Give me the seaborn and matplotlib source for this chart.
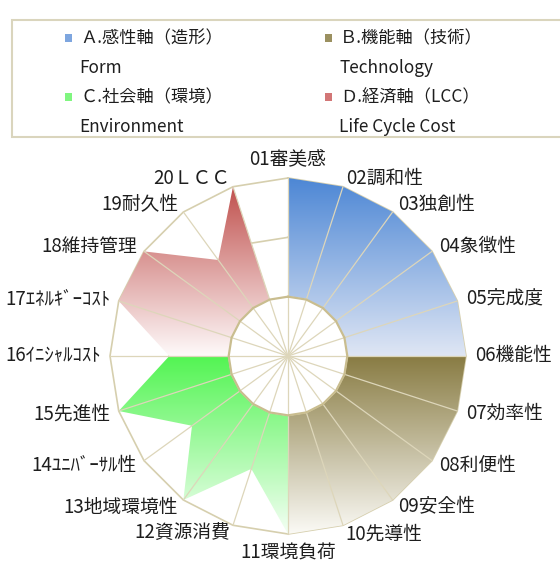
import numpy as np
import matplotlib
matplotlib.use('Agg')
import matplotlib.pyplot as plt
import seaborn as sns
from matplotlib.patches import Polygon, Rectangle
from matplotlib.colors import LinearSegmentedColormap

# axis labels, clockwise from the top
labels = ['01審美感', '02調和性', '03独創性', '04象徴性', '05完成度',
          '06機能性', '07効率性', '08利便性', '09安全性', '10先導性',
          '11環境負荷', '12資源消費', '13地域環境性', '14ﾕﾆﾊﾞｰｻﾙ性', '15先進性',
          '16ｲﾆｼｬﾙｺｽﾄ', '17ｴﾈﾙｷﾞｰｺｽﾄ', '18維持管理', '19耐久性', '20ＬＣＣ']

# each series: which axes (0-based, 20 wraps to 0) and its values (scale 0..3)
form_axes = [0, 1, 2, 3, 4, 5]
form_vals = [3, 3, 3, 3, 3, 3]
tech_axes = [5, 6, 7, 8, 9, 10]
tech_vals = [3, 3, 3, 3, 3, 3]
env_axes = [10, 11, 12, 13, 14, 15]
env_vals = [3, 2, 3, 2, 3, 2]
lcc_axes = [15, 16, 17, 18, 19, 20]
lcc_vals = [2, 3, 3, 2, 3, 0]
inner_val = 1
max_val = 3

legend_names = ['Ａ.感性軸（造形）', 'Ｂ.機能軸（技術）', 'Ｃ.社会軸（環境）', 'Ｄ.経済軸（LCC）']
legend_sub = ['Form', 'Technology', 'Environment', 'Life Cycle Cost']

# gradient colours (top, bottom) per series
grads = [('#4d87d5', '#dfe6f4'), ('#887b42', '#fbfaf6'),
         ('#52f452', '#f4fff4'), ('#c0504d', '#fefafa')]
marker_cols = ['#7ea6df', '#9b9060', '#80f680', '#d27676']

sns.set_theme(style='white')
plt.rcParams['font.family'] = ['Noto Sans CJK JP', 'DejaVu Sans']

W, H = 560, 570
fig = plt.figure(figsize=(W / 100, H / 100), dpi=100)
ax = fig.add_axes([0, 0, 1, 1])

# layout: centre and outer radius in pixels
cx, cy, R = 288, 356, 178
s = R / max_val
ax.axis('off')

n = len(labels)
theta = np.pi / 2 - np.arange(n + 1) * 2 * np.pi / n


def xy(idx, vals):
    idx = np.asarray(idx)
    vals = np.asarray(vals, dtype=float)
    return vals * np.cos(theta[idx]), vals * np.sin(theta[idx])


grid_col = '#d6cfae'

# rings behind the fills
for r in [2, 3]:
    gx, gy = xy(range(n + 1), [r] * (n + 1))
    ax.plot(gx, gy, color=grid_col, lw=1.2, zorder=1)


def grad_fill(idx, vals, top, bottom):
    px, py = xy(idx, vals)
    px = np.concatenate([[0], px])
    py = np.concatenate([[0], py])
    poly = Polygon(np.column_stack([px, py]), closed=True,
                   facecolor='none', edgecolor='none')
    ax.add_patch(poly)
    cmap = LinearSegmentedColormap.from_list('g', [bottom, top])
    g = np.linspace(0, 1, 256).reshape(-1, 1)
    im = ax.imshow(g, cmap=cmap, origin='lower', aspect='auto',
                   extent=[px.min(), px.max(), py.min(), py.max()],
                   interpolation='bilinear', zorder=2)
    im.set_clip_path(poly)


series = [(form_axes, form_vals), (tech_axes, tech_vals),
          (env_axes, env_vals), (lcc_axes, lcc_vals)]
for (a, v), (top, bot) in zip(series, grads):
    grad_fill(a, v, top, bot)

ax.set_xlim(-cx / s, (W - cx) / s)
ax.set_ylim(-(H - cy) / s, cy / s)

# inner white polygon
ix, iy = xy(range(n + 1), [inner_val] * (n + 1))
ax.fill(ix, iy, color='white', zorder=2.5)
ax.plot(ix, iy, color='#c9bd8f', lw=1.6, zorder=4)

# spokes on top
for i in range(n):
    ax.plot([0, max_val * np.cos(theta[i])], [0, max_val * np.sin(theta[i])],
            color='#ddd6ba', lw=0.9, zorder=3)

# axis labels
lr = max_val * 1.05
for i, lab in enumerate(labels):
    c, sn = np.cos(theta[i]), np.sin(theta[i])
    if abs(c) < 0.1:
        ha = 'center'
        va = 'bottom' if sn > 0 else 'top'
    else:
        ha = 'left' if c > 0 else 'right'
        va = 'center'
    ax.text(lr * c, lr * sn, lab, ha=ha, va=va, fontsize=13.5,
            color='#1e1e1e', zorder=5)

# legend box
fig.patches.append(Rectangle((12 / W, 1 - 137 / H), 560 / W, 117 / H,
                             transform=fig.transFigure, facecolor='white',
                             edgecolor='#dad5bd', lw=1.5))
lx = [80, 340]
ly = [38, 97]
for k, (name, sub) in enumerate(zip(legend_names, legend_sub)):
    x0 = lx[k % 2]
    y0 = ly[k // 2]
    fig.patches.append(Rectangle(((x0 - 15) / W, 1 - (y0 + 3.5) / H), 7 / W, 7 / H,
                                 transform=fig.transFigure,
                                 facecolor=marker_cols[k], edgecolor='none'))
    fig.text(x0 / W, 1 - y0 / H, name, ha='left', va='center',
             fontsize=12.4, color='#1e1e1e')
    fig.text((x0 - 1) / W, 1 - (y0 + 30) / H, sub, ha='left', va='center',
             fontsize=12.4, color='#1e1e1e')

fig.savefig('out.png', dpi=100)
